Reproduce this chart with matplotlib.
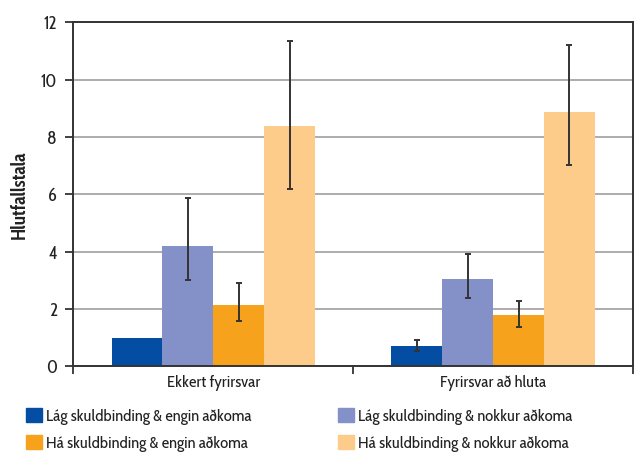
import matplotlib
matplotlib.use("Agg")
import matplotlib.pyplot as plt
from matplotlib.patches import Patch
import numpy as np

plt.rcParams['font.family'] = ['Cabin Condensed', 'DejaVu Sans']

categories = ["Ekkert fyrirsvar", "Fyrirsvar að hluta"]
series_names = [
    "Lág skuldbinding & engin aðkoma",
    "Lág skuldbinding & nokkur aðkoma",
    "Há skuldbinding & engin aðkoma",
    "Há skuldbinding & nokkur aðkoma",
]
colors = ["#034ea2", "#8491c8", "#f7a21c", "#fdcb8a"]

# odds ratios per series (rows) and category (columns)
values = [
    [1.00, 0.72],
    [4.20, 3.05],
    [2.15, 1.80],
    [8.37, 8.86],
]
# confidence interval bounds (None = reference group, no interval)
ci_low = [
    [None, 0.54],
    [3.02, 2.40],
    [1.59, 1.39],
    [6.17, 7.02],
]
ci_high = [
    [None, 0.94],
    [5.87, 3.93],
    [2.92, 2.28],
    [11.33, 11.22],
]
yticks = [0, 2, 4, 6, 8, 10, 12]

fig = plt.figure(figsize=(6.35, 4.53), dpi=100)
ax = fig.add_axes([0.1157, 0.191, 0.881, 0.760])

x = np.arange(len(categories))
bw = 0.182
offsets = (np.arange(4) - 1.5) * bw
for i in range(4):
    ax.bar(x + offsets[i], values[i], width=bw, color=colors[i], zorder=2)
    for j in range(len(categories)):
        if ci_low[i][j] is None:
            continue
        lo = values[i][j] - ci_low[i][j]
        hi = ci_high[i][j] - values[i][j]
        ax.errorbar(x[j] + offsets[i], values[i][j], yerr=[[lo], [hi]],
                    fmt="none", ecolor="#333333", elinewidth=1.4,
                    capsize=2.5, capthick=1.4, zorder=3)

ax.set_xlim(-0.5, 1.5)
ax.set_ylim(0, 12)
ax.set_yticks(yticks)
ax.yaxis.grid(True, color="#a6a6a6", linewidth=1.3, zorder=0)
ax.set_axisbelow(True)

ax.set_xticks(x)
ax.set_xticklabels(categories, fontsize=12, color="#222222")
ax.tick_params(axis="x", which="major", length=0, pad=6)
ax.set_xticks([-0.5, 0.5, 1.5], minor=True)
ax.tick_params(axis="x", which="minor", length=6, width=1.3, color="#333333")
ax.tick_params(axis="y", length=6, width=1.3, color="#333333", pad=6,
               labelsize=13, labelcolor="#222222")

for s in ax.spines.values():
    s.set_color("#333333")
    s.set_linewidth(1.4)

ax.set_ylabel("Hlutfallstala", fontsize=14, fontweight="bold", labelpad=8,
              color="#222222")

# two single-column legends, placed side by side under the axes
leg_kw = dict(frameon=False, fontsize=12, handlelength=0.95, handleheight=0.95,
              handletextpad=0.28, labelspacing=0.6, borderpad=0,
              borderaxespad=0, loc="upper left", labelcolor="#222222")
for col, x0 in ((0, 26), (1, 338)):
    idx = (0, 2) if col == 0 else (1, 3)
    fig.legend([Patch(color=colors[k]) for k in idx],
               [series_names[k] for k in idx],
               bbox_to_anchor=(x0 / 635, 1 - 408 / 453), **leg_kw)

fig.savefig("out.png", dpi=100)
